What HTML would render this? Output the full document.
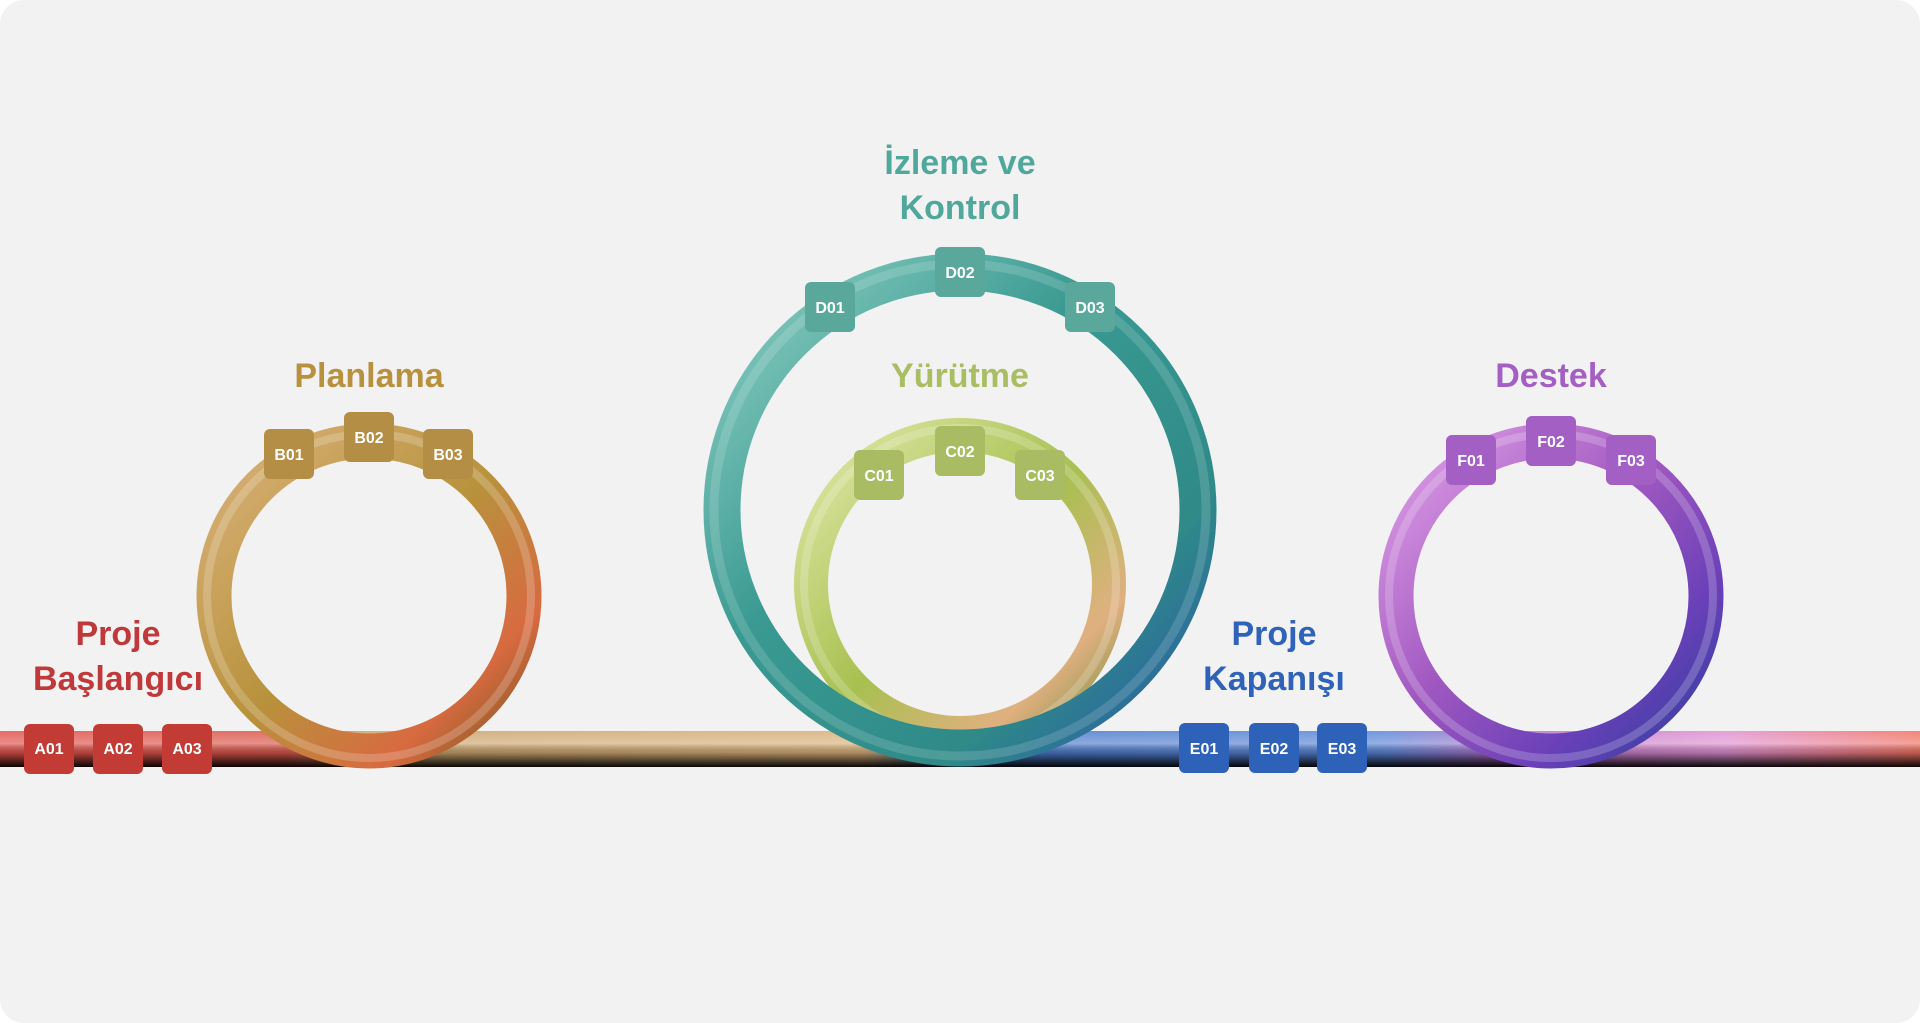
<!DOCTYPE html>
<html><head><meta charset="utf-8"><style>
html,body{margin:0;padding:0;background:#fff;}
svg{display:block}
text{font-family:"Liberation Sans",sans-serif;font-weight:bold;text-anchor:middle}
</style></head><body>
<svg width="1920" height="1023" viewBox="0 0 1920 1023" xmlns="http://www.w3.org/2000/svg">
<defs>
<linearGradient id="barc" x1="0" x2="1920" y1="0" y2="0" gradientUnits="userSpaceOnUse">
<stop offset="0" stop-color="#e0504a"/><stop offset="0.15" stop-color="#d9574a"/>
<stop offset="0.19" stop-color="#c9a26a"/><stop offset="0.45" stop-color="#d9b07a"/>
<stop offset="0.5" stop-color="#4a78c8"/><stop offset="0.72" stop-color="#5a86d8"/>
<stop offset="0.78" stop-color="#b070c8"/><stop offset="0.9" stop-color="#e090d0"/>
<stop offset="1" stop-color="#f07060"/></linearGradient>
<linearGradient id="barv" x1="0" x2="0" y1="0" y2="1">
<stop offset="0" stop-color="#fff" stop-opacity="0.15"/><stop offset="0.35" stop-color="#fff" stop-opacity="0.35"/>
<stop offset="0.6" stop-color="#000" stop-opacity="0.2"/><stop offset="1" stop-color="#000" stop-opacity="0.95"/></linearGradient>
<linearGradient id="gB" x1="0" x2="1" y1="0" y2="1"><stop offset="0" stop-color="#d9b27a"/><stop offset="0.5" stop-color="#b8923c"/><stop offset="0.8" stop-color="#d86a40"/><stop offset="1" stop-color="#7a5a20"/></linearGradient>
<linearGradient id="gD" x1="0" x2="1" y1="0" y2="1"><stop offset="0" stop-color="#8fd0c4"/><stop offset="0.4" stop-color="#3a9a92"/><stop offset="0.75" stop-color="#2f8a88"/><stop offset="1" stop-color="#2a58a8"/></linearGradient>
<linearGradient id="gC" x1="0" x2="1" y1="0" y2="1"><stop offset="0" stop-color="#dfe8a8"/><stop offset="0.5" stop-color="#a8c050"/><stop offset="0.8" stop-color="#e0b080"/><stop offset="1" stop-color="#7a9040"/></linearGradient>
<linearGradient id="gF" x1="0" x2="1" y1="0" y2="1"><stop offset="0" stop-color="#e0a0e8"/><stop offset="0.45" stop-color="#a058c0"/><stop offset="0.75" stop-color="#6a40b8"/><stop offset="1" stop-color="#3040a0"/></linearGradient>
</defs>
<rect x="0" y="0" width="1920" height="1023" rx="24" fill="#f2f2f2"/>
<rect x="0" y="731" width="1920" height="36" fill="url(#barc)"/>
<rect x="0" y="731" width="1920" height="36" fill="url(#barv)"/>
<!-- rings -->
<circle cx="369" cy="596" r="155" fill="none" stroke="url(#gB)" stroke-width="35"/>
<circle cx="369" cy="596" r="162" fill="none" stroke="#fff" stroke-opacity="0.2" stroke-width="8"/>
<circle cx="960" cy="584" r="149" fill="none" stroke="url(#gC)" stroke-width="34"/>
<circle cx="960" cy="584" r="156" fill="none" stroke="#fff" stroke-opacity="0.2" stroke-width="8"/>
<circle cx="960" cy="510" r="238" fill="none" stroke="url(#gD)" stroke-width="37"/>
<circle cx="960" cy="510" r="246" fill="none" stroke="#fff" stroke-opacity="0.15" stroke-width="9"/>
<circle cx="1551" cy="596" r="155" fill="none" stroke="url(#gF)" stroke-width="35"/>
<circle cx="1551" cy="596" r="162" fill="none" stroke="#fff" stroke-opacity="0.2" stroke-width="8"/>
<!-- titles -->
<g font-size="34">
<text x="118" y="645" fill="#c0393a">Proje</text>
<text x="118" y="690" fill="#c0393a">Başlangıcı</text>
<text x="369" y="387" fill="#b8913f">Planlama</text>
<text x="960" y="174" fill="#4fa89b">İzleme ve</text>
<text x="960" y="219" fill="#4fa89b">Kontrol</text>
<text x="960" y="387" fill="#a9bd62">Yürütme</text>
<text x="1274" y="645" fill="#2f62b8">Proje</text>
<text x="1274" y="690" fill="#2f62b8">Kapanışı</text>
<text x="1551" y="387" fill="#a35fc4">Destek</text>
</g>
<!-- boxes -->
<g font-size="16" fill="#fff">
<g fill="#c23b35"><rect x="24" y="724" width="50" height="50" rx="6"/><rect x="93" y="724" width="50" height="50" rx="6"/><rect x="162" y="724" width="50" height="50" rx="6"/></g>
<text x="49" y="754" fill="#fff">A01</text><text x="118" y="754" fill="#fff">A02</text><text x="187" y="754" fill="#fff">A03</text>
<g fill="#b58e45"><rect x="264" y="429" width="50" height="50" rx="6"/><rect x="344" y="412" width="50" height="50" rx="6"/><rect x="423" y="429" width="50" height="50" rx="6"/></g>
<text x="289" y="460" fill="#fff">B01</text><text x="369" y="443" fill="#fff">B02</text><text x="448" y="460" fill="#fff">B03</text>
<g fill="#5aa89c"><rect x="805" y="282" width="50" height="50" rx="6"/><rect x="935" y="247" width="50" height="50" rx="6"/><rect x="1065" y="282" width="50" height="50" rx="6"/></g>
<text x="830" y="313" fill="#fff">D01</text><text x="960" y="278" fill="#fff">D02</text><text x="1090" y="313" fill="#fff">D03</text>
<g fill="#a9bb63"><rect x="854" y="450" width="50" height="50" rx="6"/><rect x="935" y="426" width="50" height="50" rx="6"/><rect x="1015" y="450" width="50" height="50" rx="6"/></g>
<text x="879" y="481" fill="#fff">C01</text><text x="960" y="457" fill="#fff">C02</text><text x="1040" y="481" fill="#fff">C03</text>
<g fill="#2e62b8"><rect x="1179" y="723" width="50" height="50" rx="6"/><rect x="1249" y="723" width="50" height="50" rx="6"/><rect x="1317" y="723" width="50" height="50" rx="6"/></g>
<text x="1204" y="754" fill="#fff">E01</text><text x="1274" y="754" fill="#fff">E02</text><text x="1342" y="754" fill="#fff">E03</text>
<g fill="#a35fc4"><rect x="1446" y="435" width="50" height="50" rx="6"/><rect x="1526" y="416" width="50" height="50" rx="6"/><rect x="1606" y="435" width="50" height="50" rx="6"/></g>
<text x="1471" y="466" fill="#fff">F01</text><text x="1551" y="447" fill="#fff">F02</text><text x="1631" y="466" fill="#fff">F03</text>
</g>
</svg>
</body></html>
